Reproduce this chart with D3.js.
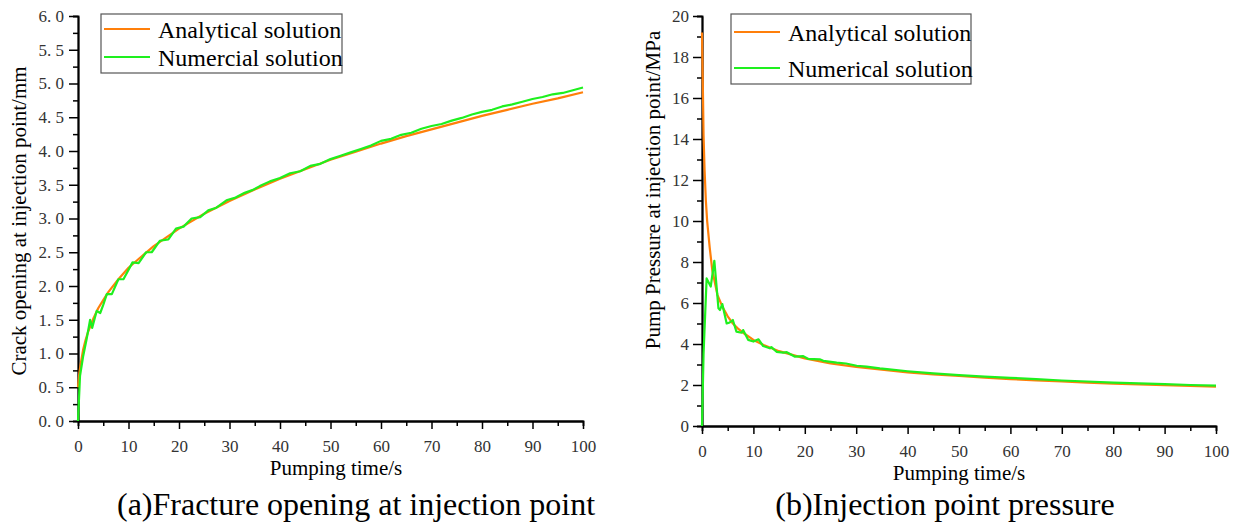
<!DOCTYPE html>
<html>
<head>
<meta charset="utf-8">
<script src="https://cdn.jsdelivr.net/npm/d3@7"></script>
<style>
  body { margin: 0; background: #fff; }
  svg { display: block; }
  text { font-family: "Liberation Serif", "Times New Roman", serif; }
</style>
</head>
<body>
<div id="chart"></div>
<script>
// ---- data ----
// (a) crack opening at injection point, mm
const openTimeAna = [0, 0.25, 0.5, 1, 1.5, 2, 3, 4, 5, 6, 8, 10, 12, 15, 20, 25, 30, 35, 40, 45, 50, 55, 60, 65, 70, 75, 80, 85, 90, 95, 100];
const openAnalytical = [0.5, 0.7, 0.83, 1.05, 1.2, 1.32, 1.51, 1.67, 1.79, 1.91, 2.1, 2.27, 2.4, 2.59, 2.85, 3.07, 3.26, 3.43, 3.59, 3.73, 3.87, 3.99, 4.11, 4.22, 4.32, 4.42, 4.52, 4.61, 4.7, 4.78, 4.87];
const openTimeNum = [0, 0.4, 1.0, 1.7, 2.4, 2.8, 3.7, 4.4, 5.0, 5.7, 6.7, 8.0, 9.0, 10.8, 12.0, 13.5, 14.6, 16.2, 17.9, 19.4, 20.9, 22.5, 24.2, 25.8, 27.4, 29.4, 31.2, 33.0, 34.5, 36.0, 38, 40, 42, 44, 46, 48, 50, 52, 54, 56, 58, 60, 62, 64, 66, 68, 70, 72, 74, 76, 78, 80, 82, 84, 86, 88, 90, 92, 94, 96, 98, 100];
const openNumerical = [0, 0.67, 0.95, 1.21, 1.5, 1.38, 1.63, 1.6, 1.72, 1.88, 1.88, 2.1, 2.1, 2.35, 2.34, 2.5, 2.5, 2.67, 2.69, 2.85, 2.88, 3.0, 3.02, 3.12, 3.16, 3.27, 3.31, 3.38, 3.42, 3.48, 3.55, 3.6, 3.67, 3.7, 3.78, 3.81, 3.88, 3.93, 3.98, 4.03, 4.08, 4.15, 4.18, 4.24, 4.27, 4.33, 4.37, 4.4, 4.45, 4.49, 4.54, 4.58, 4.61, 4.66, 4.69, 4.73, 4.77, 4.8, 4.84, 4.86, 4.9, 4.94];

// (b) pump pressure at injection point, MPa
const presTimeAna = [0, 0.1, 0.2, 0.3, 0.5, 0.75, 1, 1.5, 2, 2.5, 3, 4, 5, 6, 7, 8, 10, 12, 15, 20, 25, 30, 35, 40, 45, 50, 55, 60, 65, 70, 75, 80, 85, 90, 95, 100];
const presAnalytical = [19.2, 17.5, 16.0, 14.2, 12.5, 11.0, 10.0, 8.7, 7.6, 7.0, 6.4, 5.8, 5.35, 5.0, 4.75, 4.55, 4.2, 3.95, 3.65, 3.3, 3.05, 2.88, 2.75, 2.62, 2.52, 2.44, 2.36, 2.29, 2.23, 2.17, 2.12, 2.07, 2.03, 1.99, 1.96, 1.92];
const presTimeNum = [0, 0.3, 0.9, 1.3, 1.7, 2.4, 3.2, 3.5, 3.95, 4.8, 5.4, 6.0, 6.7, 7.7, 8.0, 9.0, 10.0, 11.0, 11.9, 13.2, 13.5, 14.5, 15.8, 16.5, 18.1, 19.7, 20.7, 22.9, 23.6, 26.2, 28, 30.1, 32, 34.6, 36, 40, 45, 50, 55, 60, 65, 70, 75, 80, 85, 90, 95, 100];
const presNumerical = [0, 3.5, 7.2, 7.0, 6.8, 8.06, 5.74, 5.66, 5.95, 5.0, 5.05, 5.17, 4.6, 4.55, 4.68, 4.2, 4.12, 4.23, 3.9, 3.79, 3.85, 3.62, 3.58, 3.6, 3.38, 3.41, 3.27, 3.25, 3.18, 3.09, 3.05, 2.94, 2.9, 2.81, 2.77, 2.67, 2.57, 2.48, 2.41, 2.35, 2.29, 2.22, 2.17, 2.12, 2.08, 2.04, 2.0, 1.97];

const xTicks = [0, 10, 20, 30, 40, 50, 60, 70, 80, 90, 100];
const openTicks = [0, 0.5, 1, 1.5, 2, 2.5, 3, 3.5, 4, 4.5, 5, 5.5, 6];
const presTicks = [0, 2, 4, 6, 8, 10, 12, 14, 16, 18, 20];

const orange = '#ff7f0a';
const green = '#1ef01e';

const svg = d3.select('#chart')
    .append('svg')
    .attr('width', 1236)
    .attr('height', 522);

// draw one panel
function panel(cfg) {
    const x = d3.scaleLinear().domain([0, 100]).range([cfg.x0, cfg.x1]);
    const y = d3.scaleLinear().domain(cfg.yDomain).range([cfg.y0, cfg.y1]);
    const g = svg.append('g');

    const minorX = d3.range(5, 100, 10);
    const step = cfg.yTicks[1] - cfg.yTicks[0];
    const minorY = cfg.yTicks.slice(0, -1).map(d => d + step / 2);

    // minor ticks
    g.append('g')
        .attr('transform', `translate(0,${cfg.y0})`)
        .call(d3.axisBottom(x).tickValues(minorX).tickSize(5).tickFormat(''));
    g.append('g')
        .attr('transform', `translate(${cfg.x0},0)`)
        .call(d3.axisLeft(y).tickValues(minorY).tickSize(5).tickFormat(''));

    // major axes
    const xAxis = g.append('g')
        .attr('transform', `translate(0,${cfg.y0})`)
        .call(d3.axisBottom(x).tickValues(xTicks).tickSize(8).tickPadding(7).tickSizeOuter(0));
    const yAxis = g.append('g')
        .attr('transform', `translate(${cfg.x0},0)`)
        .call(d3.axisLeft(y).tickValues(cfg.yTicks).tickSize(9).tickPadding(cfg.yPad).tickSizeOuter(0)
            .tickFormat(cfg.yFormat));

    g.selectAll('.domain').attr('stroke', '#000').attr('stroke-width', 1.8);
    g.selectAll('.tick line').attr('stroke', '#000').attr('stroke-width', 1.5);
    g.selectAll('.tick text')
        .attr('font-family', '"Liberation Serif", serif')
        .attr('font-size', 17)
        .attr('fill', '#333');
    xAxis.selectAll('.tick text').attr('dy', '0.95em');

    // curves
    const line = d3.line()
        .x(d => x(d[0]))
        .y(d => y(d[1]));

    g.append('path')
        .datum(d3.zip(cfg.tAna, cfg.ana))
        .attr('fill', 'none')
        .attr('stroke', orange)
        .attr('stroke-width', 2.2)
        .attr('stroke-linejoin', 'round')
        .attr('d', line);

    g.append('path')
        .datum(d3.zip(cfg.tNum, cfg.num))
        .attr('fill', 'none')
        .attr('stroke', green)
        .attr('stroke-width', 2.2)
        .attr('stroke-linejoin', 'round')
        .attr('d', line);

    // axis titles
    g.append('text')
        .attr('x', cfg.xTitleX)
        .attr('y', cfg.xTitleY)
        .attr('text-anchor', 'middle')
        .attr('font-size', 21)
        .attr('fill', '#000')
        .text('Pumping time/s');

    g.append('text')
        .attr('transform', `translate(${cfg.yTitleX},${cfg.yTitleY}) rotate(-90)`)
        .attr('text-anchor', 'middle')
        .attr('font-size', 21)
        .attr('fill', '#000')
        .text(cfg.yTitle);

    // caption
    g.append('text')
        .attr('x', cfg.capX)
        .attr('y', 515)
        .attr('text-anchor', 'middle')
        .attr('font-size', 32)
        .attr('fill', '#000')
        .text(cfg.caption);

    // legend
    const lg = g.append('g');
    lg.append('rect')
        .attr('x', cfg.leg.x)
        .attr('y', cfg.leg.y)
        .attr('width', cfg.leg.w)
        .attr('height', cfg.leg.h)
        .attr('fill', '#fff')
        .attr('stroke', '#555')
        .attr('stroke-width', 1.2);
    cfg.legendNames.forEach((name, i) => {
        const ly = cfg.leg.rowY + i * cfg.leg.gap;
        lg.append('line')
            .attr('x1', cfg.leg.x + 3)
            .attr('x2', cfg.leg.x + 49)
            .attr('y1', ly)
            .attr('y2', ly)
            .attr('stroke', i === 0 ? orange : green)
            .attr('stroke-width', 2.2);
        lg.append('text')
            .attr('x', cfg.leg.x + 57)
            .attr('y', ly + 9)
            .attr('font-size', 24)
            .attr('fill', '#000')
            .text(name);
    });
}

panel({
    x0: 78, x1: 583, y0: 421, y1: 16,
    yDomain: [0, 6], yTicks: openTicks, yPad: 5,
    yFormat: d => d3.format('.1f')(d).replace('.', '. '),
    tAna: openTimeAna, ana: openAnalytical,
    tNum: openTimeNum, num: openNumerical,
    xTitleX: 336, xTitleY: 475,
    yTitleX: 26, yTitleY: 221,
    yTitle: 'Crack opening at injection point/mm',
    capX: 356, caption: '(a)Fracture opening at injection point',
    legendNames: ['Analytical solution', 'Numercial solution'],
    leg: { x: 101, y: 14, w: 241, h: 59, rowY: 29, gap: 28 }
});

panel({
    x0: 702, x1: 1216, y0: 426, y1: 16,
    yDomain: [0, 20], yTicks: presTicks, yPad: 4,
    yFormat: d3.format('d'),
    tAna: presTimeAna, ana: presAnalytical,
    tNum: presTimeNum, num: presNumerical,
    xTitleX: 959, xTitleY: 480,
    yTitleX: 660, yTitleY: 190,
    yTitle: 'Pump Pressure at injection point/MPa',
    capX: 945, caption: '(b)Injection point pressure',
    legendNames: ['Analytical solution', 'Numerical solution'],
    leg: { x: 731, y: 14, w: 240, h: 70, rowY: 32, gap: 36 }
});
</script>
</body>
</html>
